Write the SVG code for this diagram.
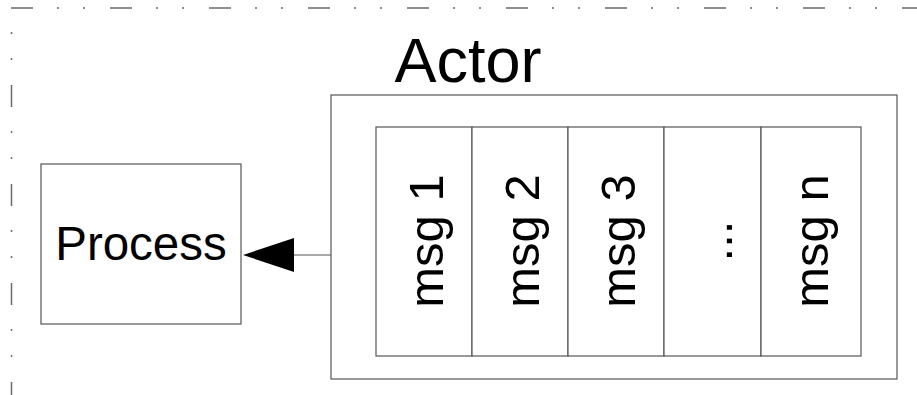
<svg xmlns="http://www.w3.org/2000/svg" width="917" height="395" viewBox="0 0 917 395">
  <style>
    .frame { fill: none; stroke: #6b6b6b; stroke-width: 1.5; stroke-dasharray: 22 24 2 24 2 25; }
    .box { fill: #ffffff; stroke: #555555; stroke-width: 1.2; }
    .label { font-family: "Liberation Sans", Arial, sans-serif; fill: #000000; }
    .msg { font-size: 49px; text-anchor: middle; }
    .edge { fill: none; stroke: #555555; stroke-width: 1.2; }
  </style>

  <!-- dash-dot-dot frame edges -->
  <g id="frame">
    <line class="frame" x1="11" y1="8" x2="917" y2="8"/>
    <line class="frame" x1="11.5" y1="10" x2="11.5" y2="395" stroke-dashoffset="24"/>
  </g>

  <g id="process">
    <rect class="box" x="41" y="164" width="200" height="160"/>
    <text class="label" x="141" y="260" font-size="47.5" text-anchor="middle">Process</text>
  </g>

  <g id="actor">
    <text class="label" x="468" y="82" font-size="63" text-anchor="middle">Actor</text>
    <rect class="box" x="331" y="95" width="566" height="284"/>
  </g>

  <g id="queue">
    <g id="msg1">
      <rect class="box" x="376" y="127" width="96" height="229"/>
      <text class="label msg" transform="translate(443,241) rotate(-90)">msg 1</text>
    </g>
    <g id="msg2">
      <rect class="box" x="472" y="127" width="96" height="229"/>
      <text class="label msg" transform="translate(539,241) rotate(-90)">msg 2</text>
    </g>
    <g id="msg3">
      <rect class="box" x="568" y="127" width="96" height="229"/>
      <text class="label msg" transform="translate(635,241) rotate(-90)">msg 3</text>
    </g>
    <g id="ellipsis">
      <rect class="box" x="664" y="127" width="97" height="229"/>
      <text class="label msg" transform="translate(732,241) rotate(-90)">...</text>
    </g>
    <g id="msgn">
      <rect class="box" x="761" y="127" width="100" height="229"/>
      <text class="label msg" transform="translate(828,241) rotate(-90)">msg n</text>
    </g>
  </g>

  <g id="connectors">
    <path class="edge" d="M331,255 L294,255"/>
    <path d="M243,255 L294,238 L294,272 Z" fill="#000000"/>
  </g>
</svg>
